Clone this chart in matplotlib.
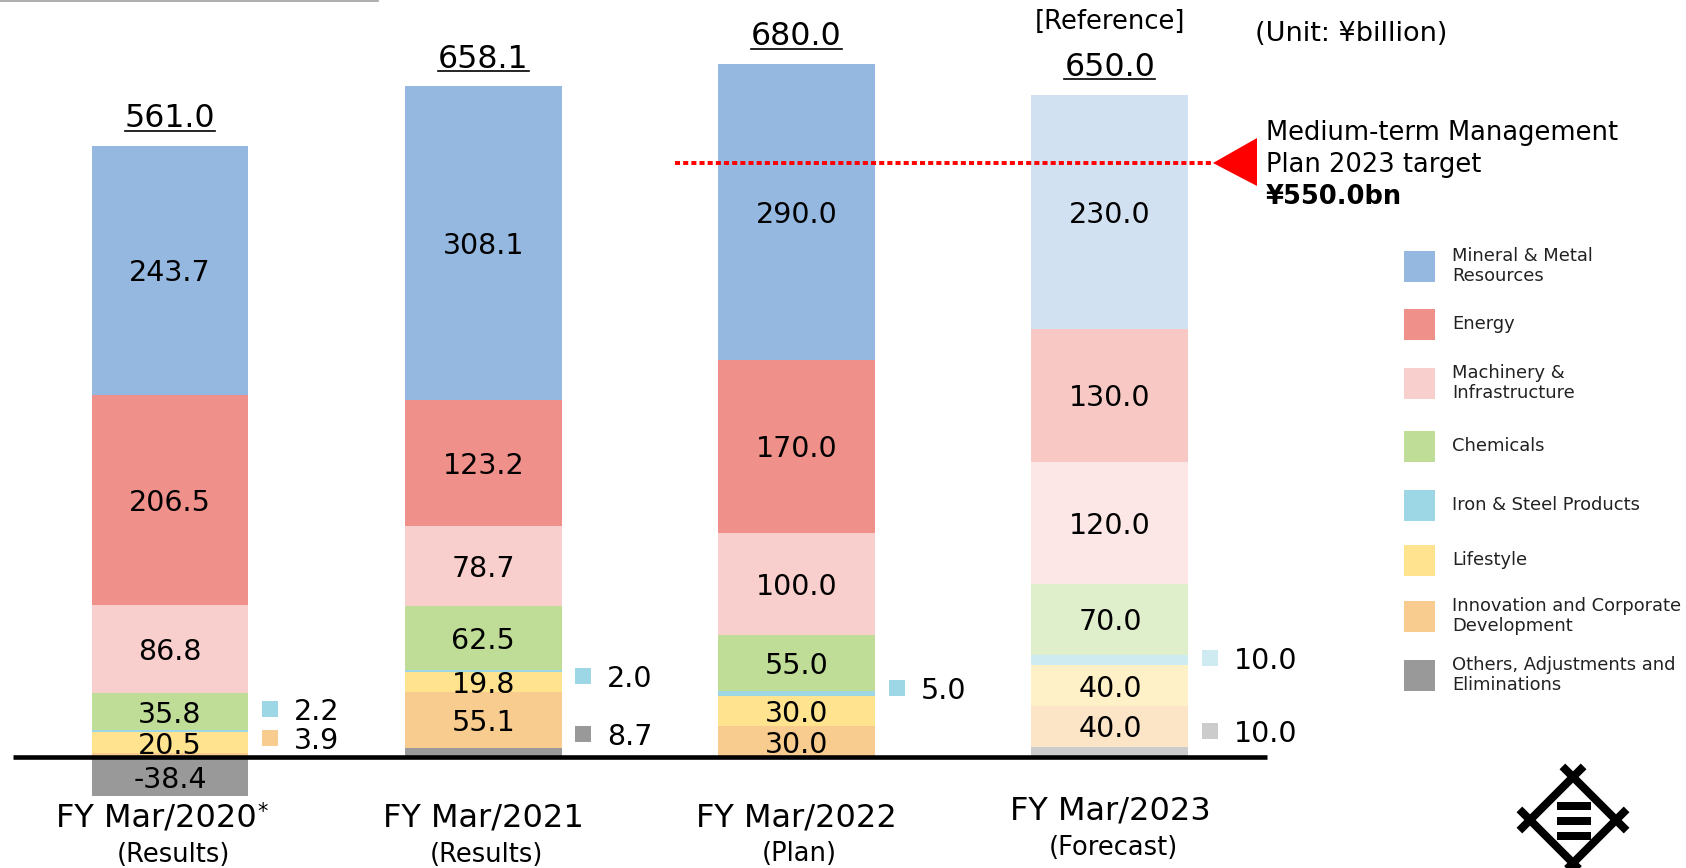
import matplotlib
matplotlib.use("Agg")
import matplotlib.pyplot as plt
import matplotlib.transforms as mtransforms
from matplotlib.patches import Rectangle, Polygon
from matplotlib.lines import Line2D
import numpy as np

# ---- data (¥ billion) ----
years = ["FY Mar/2020", "FY Mar/2021", "FY Mar/2022", "FY Mar/2023"]
year_notes = ["(Results)", "(Results)", "(Plan)", "(Forecast)"]
totals = [561.0, 658.1, 680.0, 650.0]

segments = ["Mineral & Metal\nResources", "Energy", "Machinery &\nInfrastructure",
            "Chemicals", "Iron & Steel Products", "Lifestyle",
            "Innovation and Corporate\nDevelopment", "Others, Adjustments and\nEliminations"]
mineral = [243.7, 308.1, 290.0, 230.0]
energy = [206.5, 123.2, 170.0, 130.0]
machinery = [86.8, 78.7, 100.0, 120.0]
chemicals = [35.8, 62.5, 55.0, 70.0]
iron = [2.2, 2.0, 5.0, 10.0]
lifestyle = [20.5, 19.8, 30.0, 40.0]
innovation = [3.9, 55.1, 30.0, 40.0]
others = [-38.4, 8.7, 0.0, 10.0]
target = 550.0

colors = ["#95B8E0", "#F0908A", "#F8CFCC", "#BFDD97",
          "#9DD6E4", "#FFE38E", "#F8CB8E", "#999999"]

W, H = 1686, 868
fig = plt.figure(figsize=(W / 100, H / 100), dpi=100)
fig.patch.set_facecolor("white")
ax = fig.add_axes([0, 0, 1, 1])
ax.set_xlim(-0.5426, 4.8388)
ax.set_ylim(-108.9, 742.9)
ax.axis("off")

# pixel coords, origin top-left
pix = mtransforms.Affine2D().scale(1 / W, -1 / H).translate(0, 1) + fig.transFigure
xpix = mtransforms.blended_transform_factory(ax.transData, pix)


def tint(c, f=0.5):
    rgb = np.array(matplotlib.colors.to_rgb(c))
    return tuple(rgb + (1 - rgb) * f)


# bottom -> top stacking order
series = [others, innovation, lifestyle, iron, chemicals, machinery, energy, mineral]
series_cols = [colors[7], colors[6], colors[5], colors[4], colors[3], colors[2], colors[1], colors[0]]
series_keys = ["others", "innovation", "lifestyle", "iron", "chemicals", "machinery", "energy", "mineral"]

# small values get a marker + label beside the bar (y position in value units)
side_pos = {("iron", 0): 47, ("innovation", 0): 18.6, ("iron", 1): 79.5, ("others", 1): 22.6,
            ("iron", 2): 67.7, ("iron", 3): 97, ("others", 3): 25.5}

x = np.arange(len(years))
bw = 0.501
bottom = np.zeros(len(years))
for vals, col, key in zip(series, series_cols, series_keys):
    vals = np.array(vals)
    cols = [col, col, col, tint(col, 0.58 if key == "mineral" else 0.5)]
    pos = np.clip(vals, 0, None)
    neg = np.clip(vals, None, 0)
    ax.bar(x, pos, bottom=bottom, width=bw, color=cols, linewidth=0, zorder=2)
    ax.bar(x, neg, bottom=0, width=bw, color=cols, linewidth=0, zorder=2)
    for i, v in enumerate(vals):
        if v == 0:
            continue
        if abs(v) >= 15:
            yc = bottom[i] + v / 2 if v > 0 else v / 2
            ax.text(i, yc, f"{v:.1f}", ha="center", va="center_baseline",
                    fontsize=20.5, color="black", zorder=4)
        elif (key, i) in side_pos:
            yc = side_pos[(key, i)]
            ax.plot(i + 0.319, yc, marker="s", markersize=11.5, color=cols[i],
                    markeredgewidth=0, zorder=4)
            ax.text(i + 0.395, yc, f"{v:.1f}", ha="left", va="center_baseline",
                    fontsize=20.5, color="black", zorder=4)
    bottom += pos

# baseline
ax.plot([-0.5, 3.5], [0, 0], color="black", lw=3.3, solid_capstyle="butt", zorder=5)

# totals (underlined)
total_texts = []
for i, t in enumerate(totals):
    tt = ax.annotate(f"{t:.1f}", (i, bottom[i]), xytext=(0, 13.5), textcoords="offset points",
                     ha="center", va="baseline", fontsize=22.8, color="black")
    total_texts.append(tt)
ax.text(3, 21.5, "[Reference]", transform=xpix, ha="center", va="center",
        fontsize=18.6, color="black")

# category labels
lab_y = [818, 818, 818, 811]
note_y = [855, 855, 854, 848]
lab_dx = [-0.045, 0, 0, 0]
cat_texts = []
for i in range(len(years)):
    ct = ax.text(i + lab_dx[i], lab_y[i], years[i], transform=xpix, ha="center",
                 va="center", fontsize=23, color="black")
    cat_texts.append(ct)
    ax.text(i + 0.01, note_y[i], year_notes[i], transform=xpix, ha="center",
            va="center", fontsize=18.5, color="black")

# unit
ax.text(1255, 34, "(Unit: ¥billion)", transform=pix, ha="left", va="center",
        fontsize=19.5, color="black")

# medium-term target marker
ax.add_line(Line2D([675, 1213], [163, 163], transform=pix, color="#FF0000", lw=2.8,
                   linestyle=(0, (1.3, 0.8)), zorder=6))
ax.add_patch(Polygon([(1213, 163), (1257, 138), (1257, 186)], closed=True,
                     transform=pix, color="#FF0000", lw=0, zorder=6))
ax.text(1266, 133, "Medium-term Management", transform=pix, ha="left", va="center",
        fontsize=18.5, color="black")
ax.text(1266, 165, "Plan 2023 target", transform=pix, ha="left", va="center",
        fontsize=18.5, color="black")
ax.text(1266, 197, f"¥{target:.1f}bn", transform=pix, ha="left", va="center",
        fontsize=18.5, fontweight="bold", color="black")

# legend
leg_y = [266, 324, 383, 446, 505, 560, 616, 675]
for name, col, yc in zip(segments, colors, leg_y):
    ax.add_patch(Rectangle((1404, yc - 15.5), 31, 31, transform=pix, color=col, lw=0))
    ax.text(1452, yc, name, transform=pix, ha="left", va="center", fontsize=12.9,
            linespacing=1.15, color="#222222")

# logo
cx, cy, a, e = 1573, 820, 43, 15
corners = [(cx, cy - a), (cx + a, cy), (cx, cy + a), (cx - a, cy)]
for k in range(4):
    p = np.array(corners[k], float)
    q = np.array(corners[(k + 1) % 4], float)
    d = (q - p) / np.linalg.norm(q - p)
    p2, q2 = p - e * d, q + e * d
    ax.add_line(Line2D([p2[0], q2[0]], [p2[1], q2[1]], transform=pix, color="black",
                       lw=5.8, solid_capstyle="butt", clip_on=False))
for yb in [802, 817, 832]:
    ax.add_patch(Rectangle((1557, yb), 34, 8, transform=pix, color="black", lw=0))

# remnant of slide title rule
ax.add_line(Line2D([0, 378], [0.8, 0.8], transform=pix, color="#A0A0A0", lw=1.2))

# underline totals, asterisk on first label
fig.canvas.draw()
renderer = fig.canvas.get_renderer()
inv = fig.transFigure.inverted()
for i, tt in enumerate(total_texts):
    bb = tt.get_window_extent(renderer)
    base = ax.transData.transform((i, bottom[i]))[1] + 13.5 * 100 / 72 - 3.5
    (x0, y0), (x1, _) = inv.transform([(bb.x0, base), (bb.x1, base)])
    fig.add_artist(Line2D([x0, x1], [y0, y0], transform=fig.transFigure,
                          color="black", lw=1.2))
bb = cat_texts[0].get_window_extent(renderer)
fx, fy = inv.transform((bb.x1 + 1, bb.y1 + 1))
fig.text(fx, fy, "*", ha="left", va="top", fontsize=15, color="black")

fig.savefig("out.png", dpi=100, facecolor=fig.get_facecolor())
plt.close(fig)
